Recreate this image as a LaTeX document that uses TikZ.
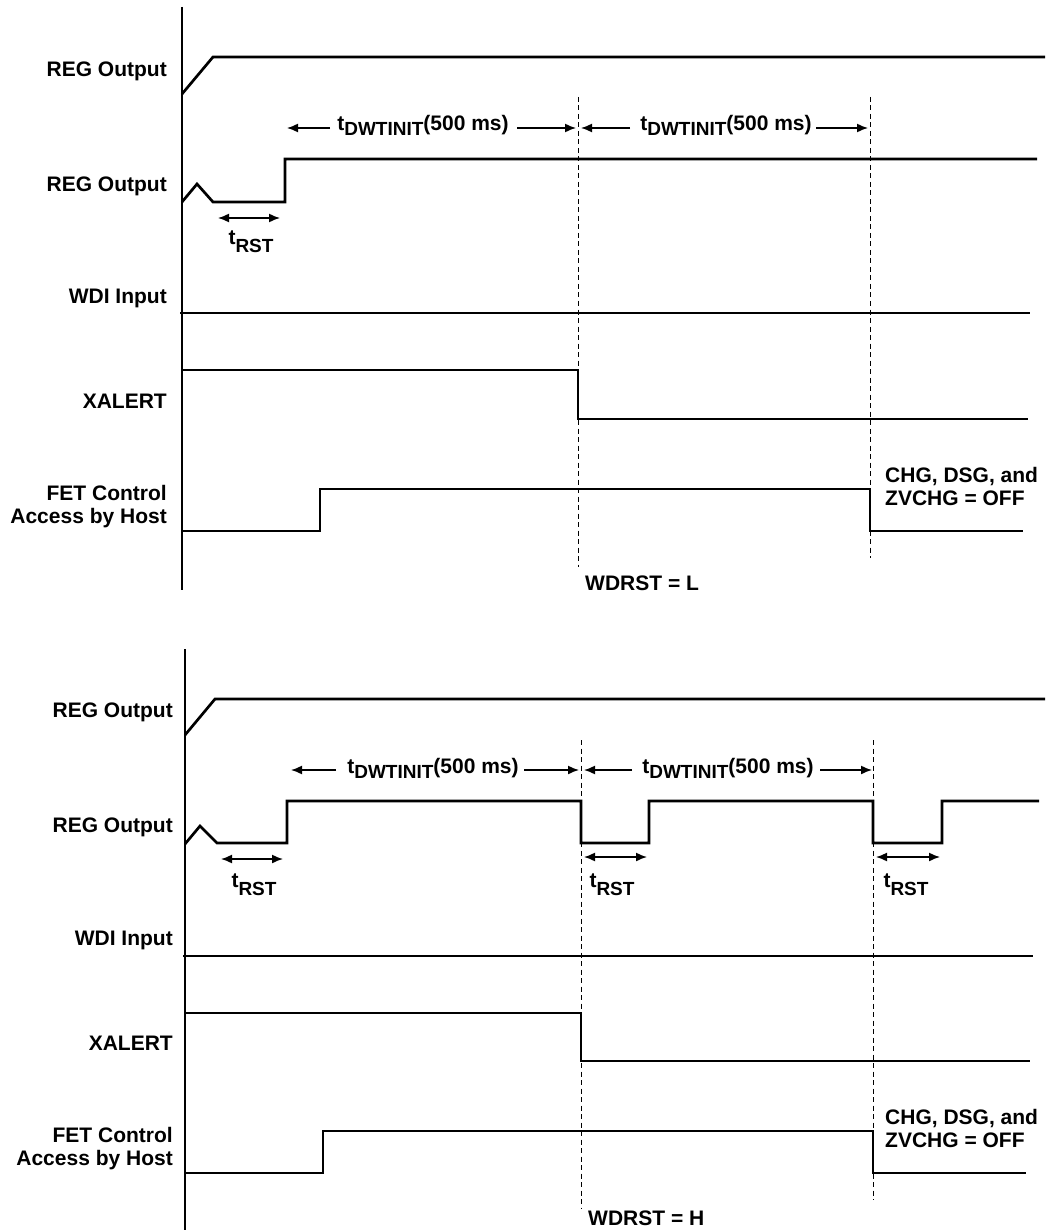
\documentclass[tikz,border=0pt]{standalone}
\usepackage{fontspec}
\setmainfont{Liberation Sans}
\usetikzlibrary{arrows.meta}
\tikzset{
  sig/.style={line width=2.7pt, line join=miter, line cap=butt},
  axisline/.style={line width=2pt},
  guide/.style={line width=1pt, dash pattern=on 5pt off 3.5pt},
  dimarrow/.style={line width=1.5pt, -{Latex[length=11pt,width=9pt]}},
  dimboth/.style={line width=1.5pt, {Latex[length=11pt,width=9pt]}-{Latex[length=11pt,width=9pt]}},
  lbl/.style={font=\fontsize{21}{23}\selectfont\bfseries, inner sep=0pt, anchor=base east},
  txt/.style={font=\fontsize{21}{23}\selectfont\bfseries, inner sep=0pt},
}
\newcommand{\rstsub}{\raisebox{-8pt}{\fontsize{19}{19}\selectfont RST}}
\newcommand{\dwsub}{\raisebox{-5pt}{\fontsize{19}{19}\selectfont DWTINIT}}
\begin{document}
\begin{tikzpicture}[x=1pt,y=-1pt]
\useasboundingbox (0,0) rectangle (1045,1230);

% ================= TOP PANEL =================
\draw[axisline] (182,7) -- (182,590);
% labels
\node[lbl] (tl1) at (167,77) {REG Output};
\node[lbl] (tl2) at (167,192) {REG Output};
\node[lbl] (tl3) at (167,303) {WDI Input};
\node[lbl] (tl4) at (167,408) {XALERT};
\node[lbl] (tl5) at (167,500) {FET Control};
\node[lbl] (tl6) at (167,523) {Access by Host};
% dashed guides
\draw[guide] (578,97) -- (578,567);
\draw[guide] (870,97) -- (870,558);
% signals
\draw[sig] (182,94) -- (213,57) -- (1045,57);
\draw[sig] (182,202) -- (197,184) -- (213,202) -- (285,202) -- (285,159) -- (1037,159);
\draw[sig] (180,313) -- (1030,313);
\draw[sig] (182,370) -- (578,370) -- (578,419) -- (1028,419);
\draw[sig] (182,531) -- (320,531) -- (320,489) -- (870,489) -- (870,531) -- (1023,531);
% tRST
\draw[dimboth] (218,218) -- (280,218);
\node[txt, anchor=base] (trst1) at (251,245) {t\rstsub};
% tDWTINIT
\node[txt, anchor=base] (tdw1) at (423,131) {t\dwsub(500 ms)};
\draw[dimarrow] (330,128) -- (287,128);
\draw[dimarrow] (517,128) -- (576,128);
\node[txt, anchor=base] (tdw2) at (726,131) {t\dwsub(500 ms)};
\draw[dimarrow] (630,128) -- (581,128);
\draw[dimarrow] (816,128) -- (868,128);
% notes
\node[txt, anchor=base west] (chg1) at (885,482) {CHG, DSG, and};
\node[txt, anchor=base west] (chg2) at (885,505) {ZVCHG = OFF};
\node[txt, anchor=base west] (wdl) at (585,590) {WDRST = L};

% ================= BOTTOM PANEL =================
\draw[axisline] (185,649) -- (185,1230);
\node[lbl] (bl1) at (173,717) {REG Output};
\node[lbl] (bl2) at (173,832) {REG Output};
\node[lbl] (bl3) at (173,945) {WDI Input};
\node[lbl] (bl4) at (173,1050) {XALERT};
\node[lbl] (bl5) at (173,1142) {FET Control};
\node[lbl] (bl6) at (173,1165) {Access by Host};
\draw[guide] (581,740) -- (581,1209);
\draw[guide] (873,740) -- (873,1200);
\draw[sig] (185,735) -- (215,699) -- (1045,699);
\draw[sig] (185,844) -- (200,826) -- (217,843) -- (287,843) -- (287,801) -- (581,801) -- (581,843) -- (649,843) -- (649,801) -- (873,801) -- (873,843) -- (942,843) -- (942,801) -- (1039,801);
\draw[sig] (183,956) -- (1033,956);
\draw[sig] (185,1013) -- (581,1013) -- (581,1061) -- (1030,1061);
\draw[sig] (185,1173) -- (323,1173) -- (323,1131) -- (873,1131) -- (873,1173) -- (1026,1173);
% tRST
\draw[dimboth] (221,859) -- (283,859);
\draw[dimboth] (584,857) -- (647,857);
\draw[dimboth] (876,857) -- (940,857);
\node[txt, anchor=base] (trst2) at (254,887) {t\rstsub};
\node[txt, anchor=base] (trst3) at (612,887) {t\rstsub};
\node[txt, anchor=base] (trst4) at (906,887) {t\rstsub};
% tDWTINIT
\node[txt, anchor=base] (tdw3) at (433,773) {t\dwsub(500 ms)};
\draw[dimarrow] (336,770) -- (291,770);
\draw[dimarrow] (524,770) -- (579,770);
\node[txt, anchor=base] (tdw4) at (728,773) {t\dwsub(500 ms)};
\draw[dimarrow] (632,770) -- (584,770);
\draw[dimarrow] (820,770) -- (872,770);
\node[txt, anchor=base west] (chg3) at (885,1124) {CHG, DSG, and};
\node[txt, anchor=base west] (chg4) at (885,1147) {ZVCHG = OFF};
\node[txt, anchor=base west] (wdh) at (588,1225) {WDRST = H};
\end{tikzpicture}
\end{document}
